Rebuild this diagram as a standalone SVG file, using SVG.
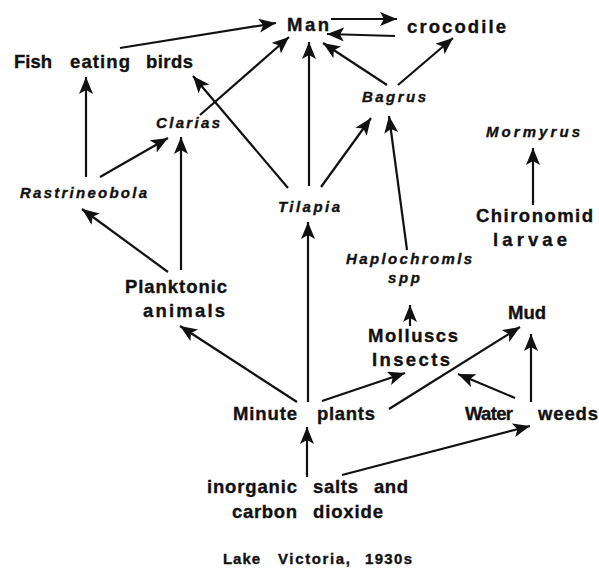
<svg xmlns="http://www.w3.org/2000/svg" width="599" height="568" viewBox="0 0 599 568">
<style>
text{font-family:"Liberation Sans",Arial,sans-serif;font-weight:bold;fill:#111;stroke:#111;stroke-width:0.35}
.n{font-size:18.5px}
.i{font-size:15px;font-style:italic}
.s{font-size:15px}
.c line{stroke:#111;stroke-width:2.2;marker-end:url(#ah)}
</style>
<defs>
<marker id="ah" markerUnits="userSpaceOnUse" markerWidth="20" markerHeight="16" refX="17" refY="7" orient="auto">
<path d="M0,0 L17,7 L0,14 L4,7 Z" fill="#111"/>
</marker>
</defs>
<rect width="599" height="568" fill="#fff"/>
<g id="man"><text class="n" x="287" y="31" textLength="42" lengthAdjust="spacing">Man</text></g>
<g id="crocodile"><text class="n" x="407" y="33" textLength="99" lengthAdjust="spacing">crocodile</text></g>
<g id="fish-eating-birds"><text class="n" y="68"><tspan x="14" textLength="38" lengthAdjust="spacing">Fish</tspan> <tspan x="70" textLength="60" lengthAdjust="spacing">eating</tspan> <tspan x="146" textLength="47" lengthAdjust="spacing">birds</tspan></text></g>
<g id="clarias"><text class="i" x="156" y="128" textLength="64" lengthAdjust="spacing">Clarias</text></g>
<g id="bagrus"><text class="i" x="362" y="102" textLength="64" lengthAdjust="spacing">Bagrus</text></g>
<g id="mormyrus"><text class="i" x="486" y="137" textLength="94" lengthAdjust="spacing">Mormyrus</text></g>
<g id="rastrineobola"><text class="i" x="20" y="198" textLength="127" lengthAdjust="spacing">Rastrineobola</text></g>
<g id="tilapia"><text class="i" x="278" y="212" textLength="62" lengthAdjust="spacing">Tilapia</text></g>
<g id="chironomid"><text class="n"><tspan x="476" y="222" textLength="117" lengthAdjust="spacing">Chironomid</tspan><tspan x="493" y="246" textLength="74" lengthAdjust="spacing">larvae</tspan></text></g>
<g id="haplochromis"><text class="i"><tspan x="346" y="264" textLength="126" lengthAdjust="spacing">Haplochromls</tspan><tspan x="388" y="283" textLength="32" lengthAdjust="spacing">spp</tspan></text></g>
<g id="planktonic"><text class="n"><tspan x="125" y="293" textLength="102" lengthAdjust="spacing">Planktonic</tspan><tspan x="143" y="317" textLength="82" lengthAdjust="spacing">animals</tspan></text></g>
<g id="mud"><text class="n" x="508" y="319" textLength="38" lengthAdjust="spacing">Mud</text></g>
<g id="molluscs-insects"><text class="n"><tspan x="368" y="342" textLength="90" lengthAdjust="spacing">Molluscs</tspan><tspan x="372" y="366" textLength="78" lengthAdjust="spacing">Insects</tspan></text></g>
<g id="minute-plants"><text class="n" y="420"><tspan x="233" textLength="64" lengthAdjust="spacing">Minute</tspan> <tspan x="317" textLength="58" lengthAdjust="spacing">plants</tspan></text></g>
<g id="water-weeds"><text class="n" y="420"><tspan x="465" textLength="48" lengthAdjust="spacing">Water</tspan> <tspan x="538" textLength="60" lengthAdjust="spacing">weeds</tspan></text></g>
<g id="inorganic"><text class="n"><tspan x="207" y="493" textLength="90" lengthAdjust="spacing">inorganic</tspan> <tspan x="313" y="493" textLength="45" lengthAdjust="spacing">salts</tspan> <tspan x="374" y="493" textLength="34" lengthAdjust="spacing">and</tspan><tspan x="232" y="518" textLength="65" lengthAdjust="spacing">carbon</tspan> <tspan x="313" y="518" textLength="70" lengthAdjust="spacing">dioxide</tspan></text></g>
<g id="caption"><text class="s" y="564"><tspan x="223" textLength="37" lengthAdjust="spacing">Lake</tspan> <tspan x="278" textLength="72" lengthAdjust="spacing">Victoria,</tspan> <tspan x="365" textLength="47" lengthAdjust="spacing">1930s</tspan></text></g>
<g id="connectors" class="c">
<line x1="120" y1="48" x2="276" y2="23"/>
<line x1="331" y1="19" x2="397" y2="19"/>
<line x1="395" y1="36" x2="327" y2="34"/>
<line x1="200" y1="115" x2="289" y2="37"/>
<line x1="288" y1="188" x2="193" y2="76"/>
<line x1="309" y1="186" x2="309" y2="42"/>
<line x1="387" y1="85" x2="323" y2="43"/>
<line x1="398" y1="85" x2="453" y2="38"/>
<line x1="321" y1="187" x2="371" y2="118"/>
<line x1="407" y1="250" x2="389" y2="116"/>
<line x1="533" y1="205" x2="533" y2="148"/>
<line x1="86" y1="177" x2="86" y2="77"/>
<line x1="100" y1="177" x2="168" y2="138"/>
<line x1="181" y1="270" x2="181" y2="137"/>
<line x1="168" y1="272" x2="82" y2="209"/>
<line x1="297" y1="402" x2="180" y2="326"/>
<line x1="308" y1="402" x2="308" y2="222"/>
<line x1="322" y1="401" x2="405" y2="373"/>
<line x1="389" y1="409" x2="520" y2="327"/>
<line x1="515" y1="398" x2="458" y2="374"/>
<line x1="531" y1="402" x2="531" y2="334"/>
<line x1="410" y1="326" x2="410" y2="305"/>
<line x1="307" y1="477" x2="307" y2="427"/>
<line x1="342" y1="475" x2="530" y2="426"/>
</g>
</svg>
